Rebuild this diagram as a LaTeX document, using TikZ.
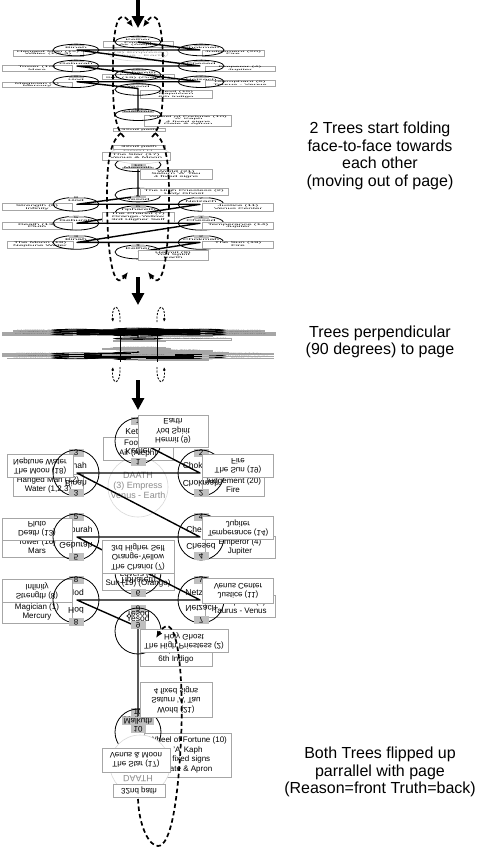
\documentclass[tikz,border=0pt]{standalone}
\usepackage{fontspec}
\setmainfont{Liberation Sans}
\usetikzlibrary{arrows.meta}

\tikzset{
  bx/.style={draw=black!35, fill=white, line width=0.5pt, align=center, inner sep=0pt, font=\fontsize{8}{9.5}\selectfont},
  tb/.style={fill=black!25, inner xsep=1.5pt, inner ysep=0pt, minimum width=15pt, minimum height=7.5pt, font=\fontsize{8}{8}\selectfont},
  lb/.style={inner sep=0pt, font=\fontsize{8.5}{9}\selectfont},
  fl/.style={yscale=-1},
  sephi/.style={draw=black, line width=0.8pt},
  flash/.style={draw=black, line width=1.4pt, line join=round},
  daathc/.style={draw=black!15, fill=white, line width=0.6pt},
  daatht/.style={text=black!45, font=\fontsize{9}{10}\selectfont, align=center, inner sep=0pt},
  dsh/.style={line width=1.7pt, dash pattern=on 4.5pt off 3pt, -{Latex[length=7pt,width=6pt]}},
  dshs/.style={line width=0.9pt, dash pattern=on 2pt off 1.5pt, -{Latex[length=3.5pt,width=3pt]}},
  big/.style={line width=3.6pt, -{Triangle[length=12pt,width=12pt]}},
  sidetxt/.style={font=\fontsize{16}{17.7}\selectfont, align=center, inner sep=0pt},
}

\newcommand\FDaath{%
  \draw[daathc] (138,487) circle[radius=30pt];
  \node[daatht] (fD) at (138,485) {DAATH\\(3) Empress\\Venus - Earth};
}

\newcommand\FStuff{%
  \node[bx,minimum width=70pt,minimum height=23pt] (fKb) at (138,448.5) {Fool (0)\\Air (Aleph)};
  \node[bx,minimum width=70pt,minimum height=22pt] (fBib) at (48,485) {Hanged Man (12)\\Water (1,2,3)};
  \node[bx,minimum width=62pt,minimum height=22pt] (fChb) at (233,485) {Judgement (20)\\Fire};
  \node[bx,minimum width=70pt,minimum height=22pt] (fGeb) at (37,546) {Tower (16)\\Mars};
  \node[bx,minimum width=70pt,minimum height=22pt] (fCsb) at (240,547) {Emperor (4)\\Jupiter};
  \node[bx,minimum width=72pt,minimum height=22pt] (fTib) at (138,579) {Lovers (6)\\Sun (19) (Orange)};
  \node[bx,minimum width=70pt,minimum height=22pt] (fHob) at (37,612) {Magician (1)\\Mercury};
  \node[bx,minimum width=70pt,minimum height=22pt] (fNeb) at (240,606) {Hierophant (5)\\Taurus - Venus};
  \node[bx,minimum width=72pt,minimum height=32pt] (fYeb) at (176,650) {Devil (15)\\Capricorn\\6th Indigo};
  \node[bx,minimum width=87pt,minimum height=44pt] (fMab) at (188,755) {Wheel of Fortune (10)\\'A' Kaph\\4 fixed signs\\Gate \& Apron};
  \node[bx,minimum width=52pt,minimum height=13pt] (fPb) at (139,791) {32nd path};
  \node[lb] (fKl) at (138,431) {Kether};
  \node[tb] (fKt) at (138,421) {1};
  \node[lb] (fChl) at (201,465) {Chokmah};
  \node[tb] (fCht) at (201,453) {2};
  \node[lb] (fBil) at (76,465) {Binah};
  \node[tb] (fBit) at (76,453) {3};
  \node[lb] (fCsl) at (201,529) {Chesed};
  \node[tb] (fCst) at (201,517) {4};
  \node[lb] (fGel) at (76,529) {Geburah};
  \node[tb] (fGet) at (76,517) {5};
  \node[lb] (fTil) at (138,563) {Tiphareth};
  \node[tb] (fTit) at (138,552) {6};
  \node[lb] (fNel) at (201,592) {Netzach};
  \node[tb] (fNet) at (201,580) {7};
  \node[lb] (fHol) at (76,592) {Hod};
  \node[tb] (fHot) at (76,580) {8};
  \node[lb] (fYel) at (138,618) {Yesod};
  \node[tb] (fYet) at (138,609) {9};
  \node[tb] (fMat) at (138,712) {10};
  \node[tb] (fMal) at (138,720) {Malkuth};
}

\newcommand\TreeLines{%
  \coordinate (pK) at (138,441);
  \coordinate (pCh) at (200,473);
  \coordinate (pBi) at (77,473);
  \coordinate (pCs) at (200,537);
  \coordinate (pGe) at (77,537);
  \coordinate (pNe) at (200,600);
  \coordinate (pHo) at (77,600);
  \coordinate (pYe) at (138,627);
  \coordinate (pMa) at (138,716);
  \draw[flash] (pK) -- (pCh) -- (pBi) -- (pCs) -- (pGe) -- (pNe) -- (pHo) -- (pYe) -- (pMa);
}

\newcommand\TreeCircles{%
  \foreach \cx/\cy in {138/441,201/473,76/473,201/537,76/537,138/572,201/600,76/600,138/631,138/732}
    {\draw[sephi] (\cx,\cy) circle[radius=23pt];}
}

\newcommand\BLeft{%
  \node[bx,fl,minimum width=66pt,minimum height=23pt] (bBib) at (40,466) {The Moon (18)\\Neptune Water};
  \node[bx,fl,minimum width=70pt,minimum height=22pt] (bGeb) at (37,529) {Death (13)\\Pluto};
  \node[bx,fl,minimum width=70pt,minimum height=23pt] (bHob) at (37,591) {Strength (8)\\Infinity};
}

\newcommand\BRest{%
  \node[lb,fl] (bKl) at (138,452) {Kether};
  \node[tb,fl] (bKt) at (138,462) {1};
  \node[lb,fl] (bChl) at (201,484) {Chokmah};
  \node[tb,fl] (bCht) at (201,493) {2};
  \node[lb,fl] (bBil) at (76,484) {Binah};
  \node[tb,fl] (bBit) at (76,493) {3};
  \node[lb,fl] (bCsl) at (201,547) {Chesed};
  \node[tb,fl] (bCst) at (201,556) {4};
  \node[lb,fl] (bGel) at (76,546) {Geburah};
  \node[tb,fl] (bGet) at (76,557) {5};
  \node[lb,fl] (bTil) at (138,580) {Tiphareth};
  \node[tb,fl] (bTit) at (138,593) {6};
  \node[lb,fl] (bNel) at (201,609) {Netzach};
  \node[tb,fl] (bNet) at (201,620) {7};
  \node[lb,fl] (bHol) at (76,611) {Hod};
  \node[tb,fl] (bHot) at (76,622) {8};
  \node[lb,fl] (bYel) at (138,615) {Yesod};
  \node[tb,fl] (bYet) at (138,625) {9};
  \node[tb,fl] (bMal) at (138,721) {Malkuth};
  \node[tb,fl] (bMat) at (138,729) {10};
  \node[bx,fl,minimum width=70pt,minimum height=32pt] (bKb) at (173,431) {Hermit (9)\\Yod Spirit\\Earth};
  \node[bx,fl,minimum width=71pt,minimum height=23pt] (bChb) at (238,466) {The Sun (19)\\Fire};
  \node[bx,fl,minimum width=71pt,minimum height=23pt] (bCsb) at (238,528) {Temperance (14)\\Jupiter};
  \node[bx,fl,minimum width=72pt,minimum height=33pt] (bTib) at (138,557) {The Chariot (7)\\Orange-Yellow\\3rd Higher Self};
  \node[bx,fl,minimum width=71pt,minimum height=25pt] (bNeb) at (238,591) {Justice (11)\\Venus Center};
  \node[bx,fl,minimum width=88pt,minimum height=23pt] (bYeb) at (184,641) {The High Priestess (2)\\Holy Ghost};
  \node[bx,fl,minimum width=72pt,minimum height=35pt] (bWb) at (176,700) {World (21)\\Saturn 'A' Tau\\4 fixed signs};
  \draw[daathc] (140,765) circle[radius=30pt];
  \node[bx,fl,minimum width=68pt,minimum height=24pt] (bSb) at (136,760) {The Star (17)\\Venus \& Moon};
  \node[bx,fl,minimum width=52pt,minimum height=13pt] (bPb) at (139,791) {32nd path};
  \node[daatht,fl] (bD) at (138,779) {DAATH};
}

\begin{document}
\begin{tikzpicture}[x=1pt,y=-1pt]
\useasboundingbox (0,0) rectangle (480,849);
\fill[white] (0,0) rectangle (480,849);

% ---- group 1: front tree folding
\begin{scope}[shift={(0,42)}, yscale=0.25, shift={(0,-441)}, transform shape, name prefix=ga-]
  \FDaath \FStuff \TreeLines \TreeCircles
\end{scope}
% ---- group 2: back tree folding
\begin{scope}[shift={(0,252)}, yscale=-0.3, shift={(0,-441)}, transform shape, name prefix=gb-]
  \TreeLines \BLeft \TreeCircles \BRest
\end{scope}

% dashed fold arrows, groups 1 and 2
\coordinate (d1a) at (124,137); \coordinate (d1b) at (133,27);
\coordinate (d2a) at (152,137); \coordinate (d2b) at (143,27);
\draw[dsh] (d1a) .. controls (112,125) and (113,95) .. (113,65) .. controls (113,28) and (118,6) .. (d1b);
\draw[dsh] (d2a) .. controls (164,125) and (163,95) .. (163,65) .. controls (163,28) and (158,6) .. (d2b);
\coordinate (d3a) at (121,133); \coordinate (d3b) at (128,272);
\coordinate (d4a) at (155,133); \coordinate (d4b) at (148,272);
\draw[dsh] (d3a) .. controls (109,143) and (107,165) .. (107,195) .. controls (107,255) and (113,292) .. (d3b);
\draw[dsh] (d4a) .. controls (167,143) and (169,165) .. (169,195) .. controls (169,255) and (163,292) .. (d4b);

% ---- middle: trees perpendicular
\begin{scope}[shift={(0,329)}, yscale=0.033, shift={(0,-441)}, transform shape, name prefix=ma-]
  \FDaath \FStuff \TreeLines \TreeCircles
\end{scope}
\begin{scope}[shift={(0,359)}, yscale=-0.033, shift={(0,-441)}, transform shape, name prefix=mb-]
  \TreeLines \BLeft \TreeCircles \BRest
\end{scope}
\draw[line width=0.8pt] (120,328) -- (120,362);
\draw[line width=0.8pt] (157,328) -- (157,362);
\coordinate (s1a) at (120,322); \coordinate (s1b) at (113,322);
\coordinate (s2a) at (157,322); \coordinate (s2b) at (164,322);
\coordinate (s3a) at (120,367); \coordinate (s3b) at (113,367);
\coordinate (s4a) at (157,367); \coordinate (s4b) at (164,367);
\draw[dshs] (s1a) .. controls (121,303) and (111,303) .. (s1b);
\draw[dshs] (s2a) .. controls (156,303) and (166,303) .. (s2b);
\draw[dshs] (s3a) .. controls (121,386) and (111,386) .. (s3b);
\draw[dshs] (s4a) .. controls (156,386) and (166,386) .. (s4b);

% ---- final: both trees flipped up
\begin{scope}[name prefix=fin-]
  \FDaath \FStuff \TreeLines \BLeft \TreeCircles \BRest
\end{scope}
\coordinate (d5a) at (138,799); \coordinate (d5b) at (156,638);
\draw[dsh] (d5a) .. controls (139,826) and (149,846) .. (158,846) .. controls (171,846) and (178,800) .. (181,740) .. controls (184,680) and (178,603) .. (d5b);

% big arrows
\coordinate (a1s) at (138,0);   \coordinate (a1e) at (138,28);
\coordinate (a2s) at (138,277); \coordinate (a2e) at (138,305);
\coordinate (a3s) at (138,380); \coordinate (a3e) at (138,410);
\draw[big] (a1s) -- (a1e);
\draw[big] (a2s) -- (a2e);
\draw[big] (a3s) -- (a3e);

% side texts
\node[sidetxt] (t1) at (380,156) {2 Trees start folding\\face-to-face towards\\each other\\(moving out of page)};
\node[sidetxt] (t2) at (380,342) {Trees perpendicular\\(90 degrees) to page};
\node[sidetxt] (t3) at (380,772) {Both Trees flipped up\\parrallel with page\\(Reason=front Truth=back)};
\end{tikzpicture}
\end{document}
